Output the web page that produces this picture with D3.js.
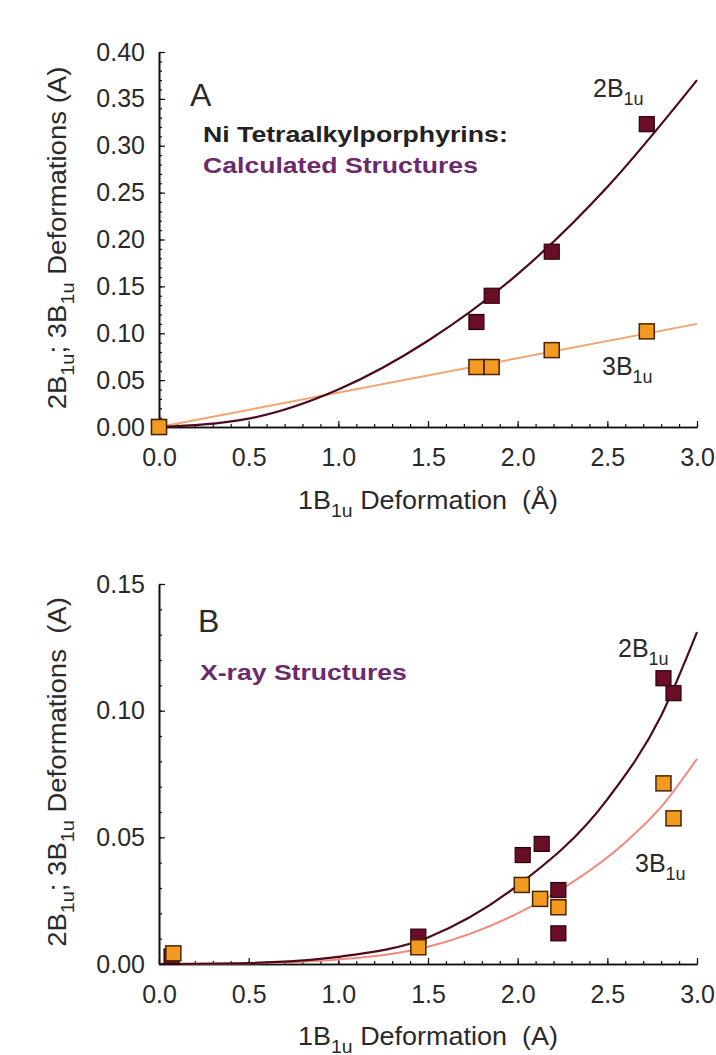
<!DOCTYPE html>
<html>
<head>
<meta charset="utf-8">
<script src="https://cdn.jsdelivr.net/npm/d3@7"></script>
<style>
  body { margin: 0; background: #fff; }
  text { font-family: "Liberation Sans", Arial, sans-serif; fill: #2a2a2a; white-space: pre; }
</style>
</head>
<body>
<svg id="chart" width="716" height="1055"></svg>
<script>
// ---- axis ticks ----
const xTickValues = [0.0, 0.5, 1.0, 1.5, 2.0, 2.5, 3.0];
const xTickLabels = ["0.0", "0.5", "1.0", "1.5", "2.0", "2.5", "3.0"];
const yTickValuesA = [0.00, 0.05, 0.10, 0.15, 0.20, 0.25, 0.30, 0.35, 0.40];
const yTickLabelsA = ["0.00", "0.05", "0.10", "0.15", "0.20", "0.25", "0.30", "0.35", "0.40"];
const yTickValuesB = [0.00, 0.05, 0.10, 0.15];
const yTickLabelsB = ["0.00", "0.05", "0.10", "0.15"];

// ---- panel A: calculated structures (1B1u deformation, Å) ----
const calc2B = [[0.00, 0.000], [1.77, 0.112], [1.855, 0.140], [2.19, 0.187], [2.72, 0.323]];
const calc3B = [[0.00, 0.000], [1.77, 0.064], [1.855, 0.064], [2.19, 0.082], [2.72, 0.102]];
const calcFit2B = [[0.0, 0.000], [0.5, 0.009], [1.0, 0.040], [1.5, 0.092], [2.0, 0.163], [2.5, 0.256], [3.0, 0.370]];
const calcFit3B = [[0.0, 0.000], [3.0, 0.110]];

// ---- panel B: X-ray structures ----
const xray2B = [[0.07, 0.0030], [1.446, 0.0108], [2.028, 0.0430], [2.134, 0.0474], [2.227, 0.0292],
                [2.227, 0.0121], [2.813, 0.1128], [2.869, 0.1069]];
const xray3B = [[0.08, 0.0042], [1.446, 0.0066], [2.023, 0.0312], [2.125, 0.0257], [2.227, 0.0224],
                [2.813, 0.0713], [2.869, 0.0575]];
const xrayFit2B = [[0.0, 0.0000], [0.5, 0.0004], [1.0, 0.0028], [1.5, 0.0105], [2.0, 0.0310],
                   [2.5, 0.0650], [2.8, 0.0980], [3.0, 0.1310]];
const xrayFit3B = [[0.0, 0.0000], [0.5, 0.0003], [1.0, 0.0018], [1.5, 0.0068], [2.0, 0.0200],
                   [2.3, 0.0320], [2.6, 0.0480], [2.8, 0.0620], [3.0, 0.0810]];

const svg = d3.select("#chart");

const COL_DARK = "#6a0d26", COL_DARK_EDGE = "#2a0008", COL_DARK_LINE = "#4c0b1c";
const COL_ORANGE = "#f29a22", COL_ORANGE_EDGE = "#4a2400";
const COL_PURPLE = "#6c2a6c";

// text with subscript runs; parts = [[string, isSub], ...]
function richText(g, parts, opts) {
  const t = g.append("text")
    .attr("font-size", opts.size)
    .attr("font-weight", opts.bold ? "bold" : null)
    .attr("text-anchor", opts.anchor || "start")
    .style("fill", opts.color || null);
  let sub = false;
  parts.forEach(([s, isSub]) => {
    const ts = t.append("tspan").text(s);
    if (isSub && !sub) { ts.attr("font-size", opts.size * 0.72).attr("dy", opts.size * 0.3); sub = true; }
    else if (!isSub && sub) { ts.attr("dy", -opts.size * 0.3); sub = false; }
  });
  // stretch horizontally to the requested run length
  let sx = 1;
  if (opts.length) sx = opts.length / t.node().getComputedTextLength();
  t.attr("transform", `translate(${opts.x},${opts.y}) rotate(${opts.rotate || 0}) scale(${sx},1)`);
  return t;
}

function drawPanel(p) {
  const g = svg.append("g");
  const x = d3.scaleLinear().domain([0, 3]).range([159, 697]);
  const y = d3.scaleLinear().domain(p.yDomain).range(p.yRange);
  const y0 = p.yRange[0];

  // minor ticks
  const xMinor = d3.range(0, 31).map(i => i / 10);
  const yMinor = d3.range(0, Math.round(p.yDomain[1] * 100) + 1).map(i => i / 100);

  const xAxisMinor = d3.axisBottom(x).tickValues(xMinor).tickSize(-3).tickSizeOuter(0).tickFormat("");
  const yAxisMinor = d3.axisLeft(y).tickValues(yMinor).tickSize(-3).tickSizeOuter(0).tickFormat("");
  g.append("g").attr("transform", `translate(0,${y0})`).call(xAxisMinor);
  g.append("g").attr("transform", `translate(159,0)`).call(yAxisMinor);

  const xAxis = d3.axisBottom(x).tickValues(xTickValues).tickSize(-6).tickSizeOuter(0)
    .tickPadding(21).tickFormat((d, i) => xTickLabels[i]);
  const yAxis = d3.axisLeft(y).tickValues(p.yTicks).tickSize(-6).tickSizeOuter(0)
    .tickPadding(14).tickFormat((d, i) => p.yLabels[i]);
  const gx = g.append("g").attr("transform", `translate(0,${y0})`).call(xAxis);
  const gy = g.append("g").attr("transform", `translate(159,0)`).call(yAxis);

  g.selectAll(".domain").attr("stroke", "#111").attr("stroke-width", 1.6);
  g.selectAll(".tick line").attr("stroke", "#111").attr("stroke-width", 1.2);
  g.selectAll(".tick text").attr("font-size", 25).attr("font-family", "Liberation Sans, Arial, sans-serif")
    .style("fill", "#2a2a2a");

  // fitted curves
  const line = d3.line().x(d => x(d[0])).y(d => y(d[1])).curve(d3.curveMonotoneX);
  g.append("path").datum(p.fit3B).attr("d", line).attr("fill", "none")
    .attr("stroke", p.col3Line).attr("stroke-width", 2);
  g.append("path").datum(p.fit2B).attr("d", line).attr("fill", "none")
    .attr("stroke", COL_DARK_LINE).attr("stroke-width", 2.2);

  // markers
  const S = 15;
  g.selectAll(".m2").data(p.pts2B).enter().append("rect")
    .attr("x", d => x(d[0]) - S / 2).attr("y", d => y(d[1]) - S / 2)
    .attr("width", S).attr("height", S)
    .attr("fill", COL_DARK).attr("stroke", COL_DARK_EDGE).attr("stroke-width", 1.2);
  g.selectAll(".m3").data(p.pts3B).enter().append("rect")
    .attr("x", d => x(d[0]) - S / 2).attr("y", d => y(d[1]) - S / 2)
    .attr("width", S).attr("height", S)
    .attr("fill", COL_ORANGE).attr("stroke", COL_ORANGE_EDGE).attr("stroke-width", 1.5);

  // axis titles
  richText(g, [["1B"], ["1u", true], [" Deformation  (" + p.xUnit + ")"]],
    { x: 428, y: p.xTitleY, size: 25, anchor: "middle", length: 260 });
  richText(g, [["2B"], ["1u", true], ["; 3B"], ["1u", true], [p.yTitleTail]],
    { x: 66, y: p.yTitleMid, size: 25, anchor: "middle", rotate: -90, length: p.yTitleLen });

  // panel letter
  g.append("text").attr("x", p.letterX).attr("y", p.letterY).attr("font-size", 32).text(p.letter);

  // heading lines
  p.heads.forEach(h => richText(g, [[h.text]], { x: h.x, y: h.y, size: 22, bold: true, color: h.color, length: h.len }));

  // curve labels
  richText(g, [["2B"], ["1u", true]], { x: p.lab2B[0], y: p.lab2B[1], size: 25 });
  richText(g, [["3B"], ["1u", true]], { x: p.lab3B[0], y: p.lab3B[1], size: 25 });
}

drawPanel({
  yDomain: [0, 0.40], yRange: [427, 52], yTicks: yTickValuesA, yLabels: yTickLabelsA,
  pts2B: calc2B, pts3B: calc3B, fit2B: calcFit2B, fit3B: calcFit3B, col3Line: "#f2a46e",
  xTitleY: 509, xUnit: "Å", yTitleMid: 238, yTitleLen: 343, yTitleTail: " Deformations (A)",
  letter: "A", letterX: 190, letterY: 106,
  heads: [
    { text: "Ni Tetraalkylporphyrins:", x: 203, y: 142, color: "#222", len: 305 },
    { text: "Calculated Structures", x: 203, y: 173, color: COL_PURPLE, len: 275 }
  ],
  lab2B: [593, 97], lab3B: [602, 375]
});

drawPanel({
  yDomain: [0, 0.15], yRange: [964, 584], yTicks: yTickValuesB, yLabels: yTickLabelsB,
  pts2B: xray2B, pts3B: xray3B, fit2B: xrayFit2B, fit3B: xrayFit3B, col3Line: "#f08a7c",
  xTitleY: 1045, xUnit: "A", yTitleMid: 772, yTitleLen: 350, yTitleTail: " Deformations  (A)",
  letter: "B", letterX: 198, letterY: 632,
  heads: [
    { text: "X-ray Structures", x: 200, y: 680, color: COL_PURPLE, len: 207 }
  ],
  lab2B: [618, 657], lab3B: [635, 872]
});
</script>
</body>
</html>
